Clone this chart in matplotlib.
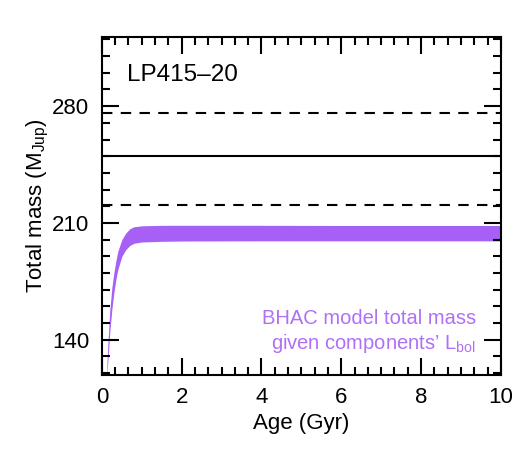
import numpy as np
import matplotlib
matplotlib.use("Agg")
import matplotlib.pyplot as plt
from matplotlib.ticker import MultipleLocator

plt.rcParams['font.family'] = ['Liberation Sans', 'DejaVu Sans']
plt.rcParams['mathtext.fontset'] = 'custom'
plt.rcParams['mathtext.rm'] = 'Liberation Sans'
plt.rcParams['mathtext.it'] = 'Liberation Sans'

# BHAC model band (Gyr, Mjup)
age = [0.12, 0.15, 0.2, 0.25, 0.3, 0.35, 0.4, 0.5, 0.6, 0.7, 0.8, 1.0, 1.5, 2.0, 4.0, 6.0, 8.0, 10.0]
mass_lo = [119, 127, 145, 158, 168, 176, 182, 190, 194, 196.5, 197.8, 198.6, 199.0, 199.2, 199.3, 199.3, 199.3, 199.3]
mass_hi = [122, 137, 158, 171, 180, 187, 193, 200, 204, 206.5, 207.7, 208.3, 208.6, 208.6, 208.6, 208.5, 208.5, 208.5]

# dynamical total mass and 1-sigma
mtot = 250
mtot_lo = 221
mtot_hi = 276

purple = '#a660f6'

fig = plt.figure(figsize=(5.25, 4.5), dpi=100)
ax = fig.add_axes([0.194, 0.167, 0.76, 0.751])

ax.fill_between(age, mass_lo, mass_hi, color=purple, lw=0)
ax.axhline(mtot, color='k', lw=1.5)
ax.axhline(mtot_lo, color='k', lw=1.5, dashes=(5, 4))
ax.axhline(mtot_hi, color='k', lw=1.5, dashes=(5, 4))

ax.set_xlim(0, 10)
ax.set_ylim(119, 321.5)
ax.xaxis.set_major_locator(MultipleLocator(2))
ax.xaxis.set_minor_locator(MultipleLocator(1/3))
ax.yaxis.set_major_locator(MultipleLocator(70))
ax.yaxis.set_minor_locator(MultipleLocator(10))
ax.tick_params(which='both', direction='in', top=True, right=True, width=1.5, labelsize=16)
ax.tick_params(which='major', length=12, pad=9)
ax.tick_params(which='minor', length=6)
for s in ax.spines.values():
    s.set_linewidth(1.5)

ax.set_xlabel('Age (Gyr)', fontsize=16, labelpad=3)
ax.set_ylabel('Total mass (M$_{\\rm Jup}$)', fontsize=16, labelpad=1)

ax.text(0.063, 0.888, 'LP415\u201320', transform=ax.transAxes, fontsize=17.5, ha='left', va='center')
ax.text(0.937, 0.168, 'BHAC model total mass', transform=ax.transAxes, fontsize=14.5, color='#b070f5', ha='right', va='center')
ax.text(0.937, 0.093, 'given components\u2019 L$_{\\rm bol}$', transform=ax.transAxes, fontsize=14.5, color='#b070f5', ha='right', va='center')

fig.savefig('out.png', dpi=100)
